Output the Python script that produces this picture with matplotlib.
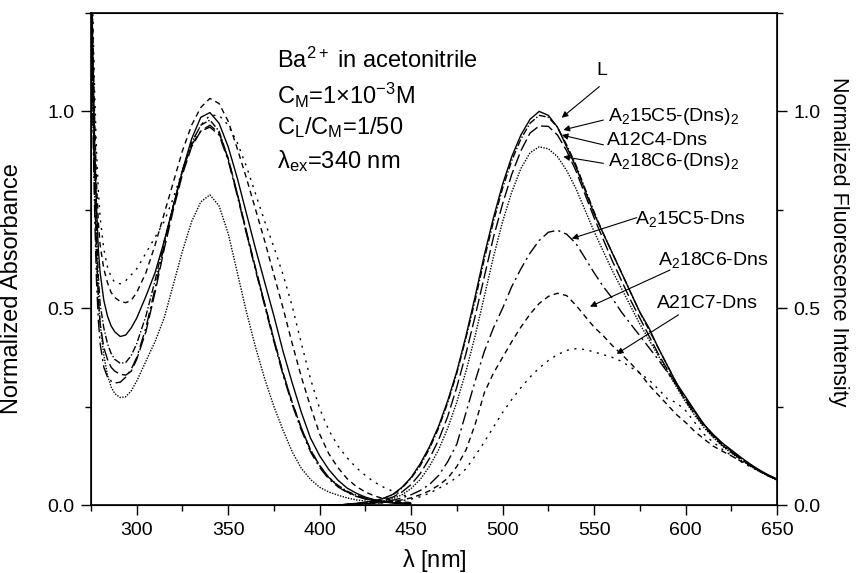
import numpy as np
import matplotlib
matplotlib.use('Agg')
import matplotlib.pyplot as plt
from matplotlib.ticker import MultipleLocator

plt.rcParams['font.family'] = ['Liberation Sans', 'DejaVu Sans']
plt.rcParams['mathtext.fontset'] = 'custom'
plt.rcParams['mathtext.rm'] = 'Liberation Sans'
plt.rcParams['mathtext.it'] = 'Liberation Sans:italic'
plt.rcParams['mathtext.default'] = 'regular'

# ---- absorption spectra (normalized) ----
abs_wl = [275, 276, 277, 278, 279, 280, 282, 284, 286, 288, 291, 294, 297, 300,
          305, 310, 315, 320, 325, 330, 335, 340, 345, 350, 355, 360, 365, 370,
          375, 380, 385, 390, 395, 400, 405, 410, 415, 420, 425, 430, 435, 440,
          445, 450]

abs_L = [1.45, 1.15, 0.92, 0.76, 0.65, 0.59, 0.52, 0.48, 0.455, 0.44, 0.428, 0.432, 0.45, 0.475,
         0.53, 0.59, 0.67, 0.76, 0.85, 0.93, 0.985, 0.997, 0.97, 0.91, 0.83, 0.74, 0.65, 0.565,
         0.48, 0.39, 0.31, 0.235, 0.17, 0.125, 0.09, 0.063, 0.043, 0.03, 0.02, 0.013, 0.008, 0.005,
         0.003, 0.002]
abs_a15c5_dns2 = [1.40, 1.10, 0.88, 0.70, 0.58, 0.51, 0.45, 0.41, 0.385, 0.37, 0.36, 0.362, 0.38, 0.41,
                  0.48, 0.57, 0.67, 0.76, 0.85, 0.92, 0.965, 0.978, 0.95, 0.88, 0.79, 0.69, 0.60, 0.51,
                  0.42, 0.335, 0.26, 0.195, 0.14, 0.10, 0.07, 0.05, 0.035, 0.025, 0.018, 0.013, 0.01, 0.008,
                  0.006, 0.005]
abs_a12c4_dns = [1.35, 1.05, 0.82, 0.64, 0.53, 0.46, 0.40, 0.37, 0.35, 0.34, 0.332, 0.33, 0.34, 0.37,
                 0.44, 0.54, 0.65, 0.75, 0.84, 0.91, 0.95, 0.965, 0.945, 0.88, 0.79, 0.695, 0.60, 0.51,
                 0.42, 0.335, 0.26, 0.195, 0.14, 0.10, 0.07, 0.048, 0.033, 0.023, 0.016, 0.011, 0.008, 0.006,
                 0.004, 0.003]
abs_a18c6_dns2 = [1.35, 1.00, 0.78, 0.63, 0.53, 0.46, 0.38, 0.33, 0.30, 0.283, 0.273, 0.275, 0.29, 0.315,
                  0.365, 0.415, 0.475, 0.56, 0.645, 0.72, 0.77, 0.788, 0.76, 0.69, 0.59, 0.49, 0.40, 0.32,
                  0.25, 0.19, 0.135, 0.093, 0.065, 0.045, 0.033, 0.025, 0.018, 0.013, 0.01, 0.008, 0.007, 0.006,
                  0.005, 0.004]
abs_a15c5_dns = [1.30, 0.98, 0.74, 0.57, 0.47, 0.41, 0.35, 0.325, 0.315, 0.31, 0.312, 0.325, 0.345, 0.375,
                 0.45, 0.55, 0.66, 0.76, 0.85, 0.915, 0.95, 0.96, 0.94, 0.875, 0.785, 0.69, 0.595, 0.505,
                 0.415, 0.33, 0.255, 0.19, 0.135, 0.095, 0.066, 0.046, 0.032, 0.022, 0.015, 0.011, 0.008, 0.006,
                 0.005, 0.004]
abs_a18c6_dns = [1.50, 1.20, 0.98, 0.82, 0.72, 0.66, 0.60, 0.565, 0.54, 0.527, 0.517, 0.514, 0.52, 0.54,
                 0.59, 0.66, 0.74, 0.82, 0.90, 0.965, 1.01, 1.033, 1.02, 0.975, 0.905, 0.83, 0.75, 0.67,
                 0.585, 0.50, 0.41, 0.325, 0.25, 0.18, 0.13, 0.095, 0.067, 0.047, 0.033, 0.023, 0.016, 0.011,
                 0.008, 0.006]
abs_a21c7_dns = [1.50, 1.25, 1.05, 0.90, 0.80, 0.73, 0.65, 0.605, 0.58, 0.565, 0.562, 0.57, 0.585, 0.60,
                 0.64, 0.68, 0.72, 0.78, 0.85, 0.92, 0.965, 0.99, 0.99, 0.965, 0.92, 0.86, 0.79, 0.72,
                 0.655, 0.585, 0.505, 0.41, 0.32, 0.245, 0.19, 0.15, 0.12, 0.095, 0.075, 0.058, 0.045, 0.035,
                 0.026, 0.02]

# ---- fluorescence spectra (normalized), 400-650 nm every 5 nm ----
em_wl = np.arange(400, 655, 5)

em_L = [0.0, 0.0, 0.0, 0.002, 0.004, 0.007, 0.011, 0.017, 0.027, 0.045,
        0.07, 0.105, 0.148, 0.20, 0.265, 0.34, 0.43, 0.53, 0.635, 0.73,
        0.815, 0.885, 0.94, 0.98, 1.0, 0.99, 0.96, 0.91, 0.86, 0.80,
        0.74, 0.69, 0.64, 0.59, 0.54, 0.49, 0.45, 0.40, 0.355, 0.31,
        0.275, 0.24, 0.205, 0.18, 0.158, 0.14, 0.122, 0.105, 0.09, 0.077,
        0.066]
em_a15c5_dns2 = [0.0, 0.0, 0.0, 0.002, 0.004, 0.007, 0.011, 0.017, 0.026, 0.043,
                 0.068, 0.10, 0.143, 0.195, 0.26, 0.335, 0.425, 0.52, 0.625, 0.72,
                 0.805, 0.875, 0.93, 0.97, 0.99, 0.985, 0.96, 0.915, 0.865, 0.805,
                 0.745, 0.69, 0.64, 0.59, 0.54, 0.49, 0.445, 0.40, 0.355, 0.31,
                 0.27, 0.237, 0.205, 0.178, 0.155, 0.137, 0.12, 0.104, 0.089, 0.076,
                 0.065]
em_a12c4_dns = [0.0, 0.0, 0.0, 0.001, 0.003, 0.005, 0.008, 0.013, 0.02, 0.033,
                0.052, 0.08, 0.118, 0.165, 0.225, 0.30, 0.385, 0.48, 0.58, 0.68,
                0.765, 0.84, 0.90, 0.945, 0.963, 0.962, 0.94, 0.90, 0.85, 0.79,
                0.73, 0.675, 0.62, 0.57, 0.52, 0.475, 0.43, 0.385, 0.345, 0.305,
                0.265, 0.232, 0.20, 0.175, 0.152, 0.134, 0.117, 0.102, 0.088, 0.075,
                0.064]
em_a18c6_dns2 = [0.0, 0.0, 0.0, 0.001, 0.002, 0.004, 0.006, 0.01, 0.016, 0.026,
                 0.042, 0.065, 0.098, 0.14, 0.195, 0.262, 0.34, 0.43, 0.53, 0.63,
                 0.72, 0.795, 0.855, 0.895, 0.91, 0.905, 0.885, 0.85, 0.805, 0.75,
                 0.695, 0.645, 0.595, 0.55, 0.505, 0.46, 0.42, 0.38, 0.34, 0.30,
                 0.262, 0.228, 0.197, 0.172, 0.15, 0.132, 0.115, 0.10, 0.086, 0.074,
                 0.063]
em_a15c5_dns = [0.0, 0.0, 0.0, 0.001, 0.002, 0.003, 0.005, 0.008, 0.012, 0.018,
                0.026, 0.037, 0.052, 0.075, 0.11, 0.155, 0.235, 0.315, 0.39, 0.45,
                0.50, 0.555, 0.60, 0.64, 0.672, 0.693, 0.698, 0.688, 0.665, 0.628,
                0.59, 0.555, 0.525, 0.49, 0.46, 0.43, 0.40, 0.37, 0.338, 0.305,
                0.27, 0.237, 0.205, 0.178, 0.155, 0.136, 0.118, 0.102, 0.088, 0.075,
                0.064]
em_a18c6_dns = [0.0, 0.0, 0.0, 0.001, 0.002, 0.003, 0.004, 0.006, 0.009, 0.013,
                0.018, 0.026, 0.036, 0.05, 0.068, 0.098, 0.14, 0.205, 0.285, 0.335,
                0.375, 0.415, 0.452, 0.485, 0.512, 0.53, 0.538, 0.532, 0.508, 0.48,
                0.452, 0.43, 0.405, 0.383, 0.36, 0.335, 0.305, 0.28, 0.255, 0.23,
                0.21, 0.187, 0.168, 0.15, 0.137, 0.125, 0.112, 0.10, 0.087, 0.075,
                0.065]
em_a21c7_dns = [0.0, 0.0, 0.0, 0.001, 0.002, 0.003, 0.004, 0.006, 0.008, 0.011,
                0.015, 0.021, 0.03, 0.042, 0.055, 0.07, 0.092, 0.125, 0.16, 0.198,
                0.235, 0.268, 0.298, 0.325, 0.348, 0.367, 0.382, 0.393, 0.397, 0.395,
                0.389, 0.382, 0.375, 0.365, 0.35, 0.335, 0.318, 0.295, 0.27, 0.26,
                0.24, 0.21, 0.18, 0.16, 0.142, 0.126, 0.111, 0.098, 0.086, 0.075,
                0.065]

# line styles of the seven compounds
styles = {
    'L': '-',
    'A15C5-(Dns)2': (0, (5, 1.5, 1, 1.5)),
    'A12C4-Dns': (0, (9, 3)),
    'A18C6-(Dns)2': (0, (1, 1)),
    'A15C5-Dns': (0, (9, 3, 1.5, 3)),
    'A18C6-Dns': (0, (4, 3)),
    'A21C7-Dns': (0, (1.5, 4)),
}

absorb = [('L', abs_L), ('A15C5-(Dns)2', abs_a15c5_dns2), ('A12C4-Dns', abs_a12c4_dns),
          ('A18C6-(Dns)2', abs_a18c6_dns2), ('A15C5-Dns', abs_a15c5_dns),
          ('A18C6-Dns', abs_a18c6_dns), ('A21C7-Dns', abs_a21c7_dns)]
emiss = [('L', em_L), ('A15C5-(Dns)2', em_a15c5_dns2), ('A12C4-Dns', em_a12c4_dns),
         ('A18C6-(Dns)2', em_a18c6_dns2), ('A15C5-Dns', em_a15c5_dns),
         ('A18C6-Dns', em_a18c6_dns), ('A21C7-Dns', em_a21c7_dns)]

fig = plt.figure(figsize=(8.57, 5.73), dpi=100)
ax = fig.add_axes([91 / 857, 1 - 505 / 573, 686 / 857, 492 / 573])

for name, y in absorb:
    ax.plot(abs_wl, y, color='black', lw=1.0, linestyle=styles[name])
for name, y in emiss:
    ax.plot(em_wl, y, color='black', lw=1.0, linestyle=styles[name])

ax.set_xlim(275, 650)
ax.set_ylim(0, 1.25)
ax.xaxis.set_major_locator(MultipleLocator(50))
ax.xaxis.set_minor_locator(MultipleLocator(25))
ax.yaxis.set_major_locator(MultipleLocator(0.5))
ax.yaxis.set_minor_locator(MultipleLocator(0.25))
ax.tick_params(which='both', direction='out', width=1.0, labelsize=14)
ax.tick_params(which='major', length=7, pad=5)
ax.tick_params(which='minor', length=4)
for sp in ax.spines.values():
    sp.set_linewidth(1.2)

ax2 = ax.twinx()
ax2.set_ylim(0, 1.25)
ax2.yaxis.set_major_locator(MultipleLocator(0.5))
ax2.yaxis.set_minor_locator(MultipleLocator(0.25))
ax2.tick_params(which='both', direction='out', width=1.0, labelsize=14)
ax2.tick_params(which='major', length=7, pad=5)
ax2.tick_params(which='minor', length=4)

ax.set_xlabel(r'$\lambda$ [nm]', fontsize=17, labelpad=6)
ax.set_ylabel('Normalized Absorbance', fontsize=17)
ax.yaxis.set_label_coords(-0.099, 0.44)
ax2.set_ylabel('Normalized Fluorescence Intensity', fontsize=15.5, rotation=270)
ax2.yaxis.set_label_coords(1.105, 0.535)

# condition text
ax.text(376.5, 1.13, r'Ba$^{2+}$ in acetonitrile', fontsize=17, va='center')
ax.text(376.5, 1.04, r'C$_M$=1$\times$10$^{-3}$M', fontsize=17, va='center')
ax.text(376.5, 0.96, r'C$_L$/C$_M$=1/50', fontsize=17, va='center')
ax.text(376.5, 0.875, r'$\lambda_{ex}$=340 nm', fontsize=17, va='center')

# curve labels with arrows
labels = [
    ('L', (554.2, 1.105), (552.9, 1.063), (532.3, 0.984), 'center'),
    (r'A$_2$15C5-(Dns)$_2$', (557.8, 0.987), (555.1, 0.978), (533.2, 0.953), 'left'),
    ('A12C4-Dns', (556.9, 0.925), (555.1, 0.915), (532.3, 0.940), 'left'),
    (r'A$_2$18C6-(Dns)$_2$', (557.8, 0.872), (555.1, 0.868), (533.2, 0.885), 'left'),
    (r'A$_2$15C5-Dns', (572.4, 0.727), (573.3, 0.730), (537.8, 0.677), 'left'),
    (r'A$_2$18C6-Dns', (585.1, 0.622), (591.5, 0.597), (547.8, 0.504), 'left'),
    ('A21C7-Dns', (584.2, 0.512), (596.1, 0.483), (562.4, 0.384), 'left'),
]
for txt, pos, tail, head, ha in labels:
    ax.text(pos[0], pos[1], txt, fontsize=14, ha=ha, va='center')
    ax.annotate('', xy=head, xytext=tail,
                arrowprops=dict(arrowstyle='-|>', color='black', lw=0.8,
                                mutation_scale=9, shrinkA=0, shrinkB=0))

fig.savefig('out.png', dpi=100)
